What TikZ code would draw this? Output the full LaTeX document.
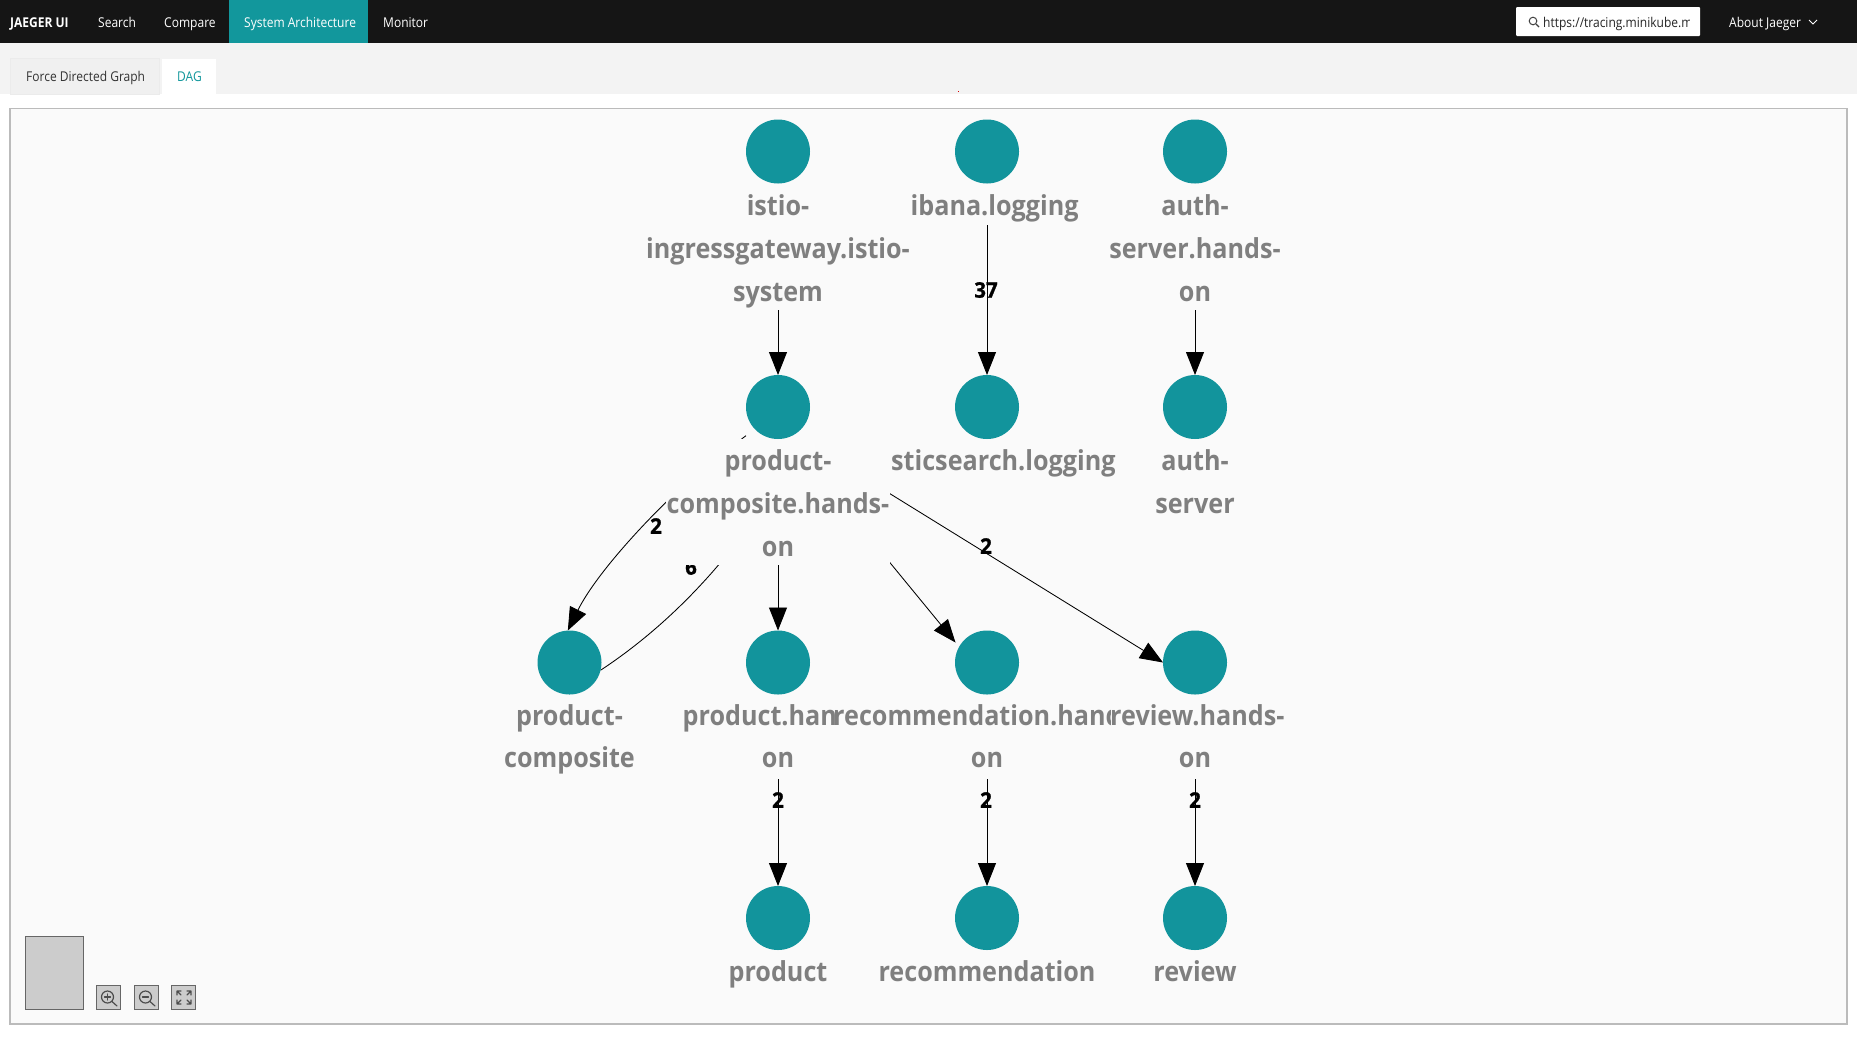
\documentclass[tikz,border=0pt]{standalone}
\usepackage{fontspec}
\usetikzlibrary{arrows.meta}
\setmainfont{Open Sans}[FakeStretch=0.915]
\newfontfamily\navfont{Open Sans}[FakeStretch=0.89]
\newfontfamily\numfont{Open Sans}[FakeBold=1.0,FakeStretch=0.95]
\definecolor{teal}{HTML}{12949C}
\definecolor{navbar}{HTML}{151515}
\definecolor{tabteal}{HTML}{12979C}
\definecolor{lblgray}{HTML}{7F7F7F}
\definecolor{canvasbg}{HTML}{FAFAFA}
\definecolor{bandbg}{HTML}{F3F3F3}
\definecolor{framegray}{HTML}{BBBBBB}
\pgfdeclarelayer{chrome}
\pgfdeclarelayer{wires}
\pgfsetlayers{chrome,wires,main}
\tikzset{
  svc/.style={circle,fill=teal,minimum size=64pt,inner sep=0pt,outer sep=0pt},
  lbl/.style={font=\fontsize{27.5}{30}\selectfont\bfseries,text=lblgray,inner sep=0pt,anchor=base},
  lblw/.style={lbl,anchor=base west},
  edge/.style={draw=black,line width=0.85pt,-{Triangle[length=23pt,width=18pt,color=black]}},
  plain/.style={draw=black,line width=0.85pt},
  count/.style={font=\fontsize{21.5}{24}\numfont\bfseries,text=black,inner sep=0pt},
  mask/.style={fill=canvasbg,draw=none},
  navtxt/.style={font=\fontsize{13.5}{16}\navfont,text=white,inner sep=0pt,anchor=base west},
  tabtxt/.style={font=\fontsize{13.5}{16}\navfont,inner sep=0pt,anchor=base west},
  zoombtn/.style={draw=black!60,fill=black!20,line width=1.4pt,minimum size=24pt,inner sep=0pt},
  icon/.style={draw=black!70,line width=1.2pt,line cap=round},
}
\begin{document}
\begin{tikzpicture}[x=1pt,y=-1pt]
\useasboundingbox (0,0) rectangle (1857,1037);
% services
\node[svc] (istio) at (778,151.5) {};
\node[svc] (kibana) at (987,151.5) {};
\node[svc] (authhands) at (1195,151.5) {};
\node[svc] (pchands) at (778,407) {};
\node[svc] (elastic) at (987,407) {};
\node[svc] (auth) at (1195,407) {};
\node[svc] (pc) at (569.5,662.5) {};
\node[svc] (producthands) at (778,662.5) {};
\node[svc] (rechands) at (987,662.5) {};
\node[svc] (reviewhands) at (1195,662.5) {};
\node[svc] (product) at (778,918) {};
\node[svc] (rec) at (987,918) {};
\node[svc] (review) at (1195,918) {};
\coordinate (revstart) at (850,469);
\coordinate (recstart) at (850,514);
\coordinate (rectip) at (955.5,642.5);
\coordinate (pcstart) at (713.3,458.4);
\coordinate (tickA) at (741.5,439);
\coordinate (tickB) at (746,435.7);
% page chrome
\begin{pgfonlayer}{chrome}
\fill[white] (0,0) rectangle (1857,1037);
\fill[bandbg] (0,43) rectangle (1857,94);
\fill[navbar] (0,0) rectangle (1857,43);
\fill[tabteal] (229,0) rectangle (368,43);
\fill[white,rounded corners=1pt] (1516,7) rectangle (1700,36);
\draw[black!75,line width=1pt] (1533,21) circle (3.8pt);
\draw[black!75,line width=1.1pt] (1536,24) -- (1539,27);
\draw[white,line width=0.9pt] (1809,20) -- (1813,24) -- (1817,20);
\fill[black!6,draw=black!8] (10,58) rectangle (159,94);
\fill[white] (162,59) rectangle (216,94);
\fill[red!85!black] (957.5,90.5) rectangle (959,92);
\draw[framegray,fill=canvasbg,line width=1.3pt] (10,108.5) rectangle (1847,1024);
\end{pgfonlayer}
% chrome texts
\node[navtxt,font=\fontsize{13.5}{16}\navfont\bfseries] (brand) at (10,27.5) {JAEGER UI};
\node[navtxt] (navsearch) at (98,27.5) {Search};
\node[navtxt] (navcompare) at (164,27.5) {Compare};
\node[navtxt] (navarch) at (244,27.5) {System Architecture};
\node[navtxt] (navmonitor) at (383,27.5) {Monitor};
\begin{scope}
\clip (1540,7) rectangle (1689,36);
\node[tabtxt,text=black!85] (url) at (1543,27.5) {https://tracing.minikube.m};
\end{scope}
\node[navtxt] (about) at (1729,27.5) {About Jaeger};
\node[tabtxt,text=black!80] (tabforce) at (26,81.5) {Force Directed Graph};
\node[tabtxt,text=tabteal] (tabdag) at (177,81.5) {DAG};
% connectors, counts and the label backgrounds that hide them
\begin{pgfonlayer}{wires}
\draw[edge] (istio) -- (pchands);
\draw[edge] (kibana) -- (elastic);
\draw[edge] (authhands) -- (auth);
\draw[edge] (pcstart) .. controls (650.5,512.8) and (595.6,574.5) .. (pc.93);
\draw[plain] (pc.-14) .. controls (645,641) and (690,601) .. (730,551);
\draw[plain] (tickA) -- (tickB);
\draw[edge] (pchands) -- (producthands);
\draw[edge] (recstart) -- (rectip);
\draw[edge] (revstart) -- (reviewhands.180);
\draw[edge] (producthands) -- (product);
\draw[edge] (rechands) -- (rec);
\draw[edge] (reviewhands) -- (review);
\node[count] (c37) at (986,290) {37};
\node[count] (c2a) at (656,526) {2};
\node[count] (c6) at (691,567) {6};
\node[count] (c2b) at (986,546) {2};
\node[count] (c2c) at (778,800) {2};
\node[count] (c2d) at (986,800) {2};
\node[count] (c2e) at (1195,800) {2};
\fill[mask] (646,184) rectangle (910,310);
\fill[mask] (910,184) rectangle (1081,225);
\fill[mask] (1111,184) rectangle (1280,310);
\fill[mask] (666,439) rectangle (890,564.5);
\fill[mask] (682,695) rectangle (833,779);
\fill[mask] (833,695) rectangle (1110,779);
\fill[mask] (1110,695) rectangle (1283,779);
\end{pgfonlayer}
% labels
\node[lbl] (l1a) at (778,215) {istio-};
\node[lbl] (l1b) at (778,258) {ingressgateway.istio-};
\node[lbl] (l1c) at (778,301) {system};
\node[lblw] (l2) at (910.5,215) {ibana.logging};
\node[lbl] (l3a) at (1195,215) {auth-};
\node[lbl] (l3b) at (1195,258) {server.hands-};
\node[lbl] (l3c) at (1195,301) {on};
\node[lbl] (l4a) at (778,470) {product-};
\node[lbl] (l4b) at (778,513) {composite.hands-};
\node[lbl] (l4c) at (778,556) {on};
\node[lblw] (l5) at (891,470) {sticsearch.logging};
\node[lbl] (l6a) at (1195,470) {auth-};
\node[lbl] (l6b) at (1195,513) {server};
\node[lbl] (l7a) at (569.5,725) {product-};
\node[lbl] (l7b) at (569.5,767) {composite};
\node[lblw] (l8a) at (682.5,725) {product.han};
\node[lbl] (l8b) at (778,767) {on};
\begin{scope}
\clip (833,690) rectangle (1110,740);
\node[lblw] (l9a) at (833,725) {recommendation.hand};
\end{scope}
\node[lbl] (l9b) at (987,767) {on};
\node[lblw] (l10a) at (1110,725) {review.hands-};
\node[lbl] (l10b) at (1195,767) {on};
\node[lbl] (l11) at (778,981) {product};
\node[lbl] (l12) at (987,981) {recommendation};
\node[lbl] (l13) at (1195,981) {review};
% minimap and zoom controls
\draw[black!60,fill=black!20,line width=1.4pt] (25.5,936.5) rectangle (83.5,1009.5);
\node[zoombtn] (zoomin) at (108.5,997.5) {};
\node[zoombtn] (zoomout) at (146.5,997.5) {};
\node[zoombtn] (zoomfit) at (183.5,997.5) {};
\draw[icon] (107.5,997) circle (6pt);
\draw[icon] (112,1001.5) -- (117,1006);
\draw[icon] (104.5,997) -- (110.5,997) (107.5,994) -- (107.5,1000);
\draw[icon] (145.5,997) circle (6pt);
\draw[icon] (150,1001.5) -- (155,1006);
\draw[icon] (142.5,997) -- (148.5,997);
\draw[icon] (177,991) -- (181,995) (177,991) -- (177,995) (177,991) -- (181,991);
\draw[icon] (191,991) -- (187,995) (191,991) -- (191,995) (191,991) -- (187,991);
\draw[icon] (177,1004) -- (181,1000) (177,1004) -- (177,1000) (177,1004) -- (181,1004);
\draw[icon] (191,1004) -- (187,1000) (191,1004) -- (191,1000) (191,1004) -- (187,1004);
\end{tikzpicture}
\end{document}
